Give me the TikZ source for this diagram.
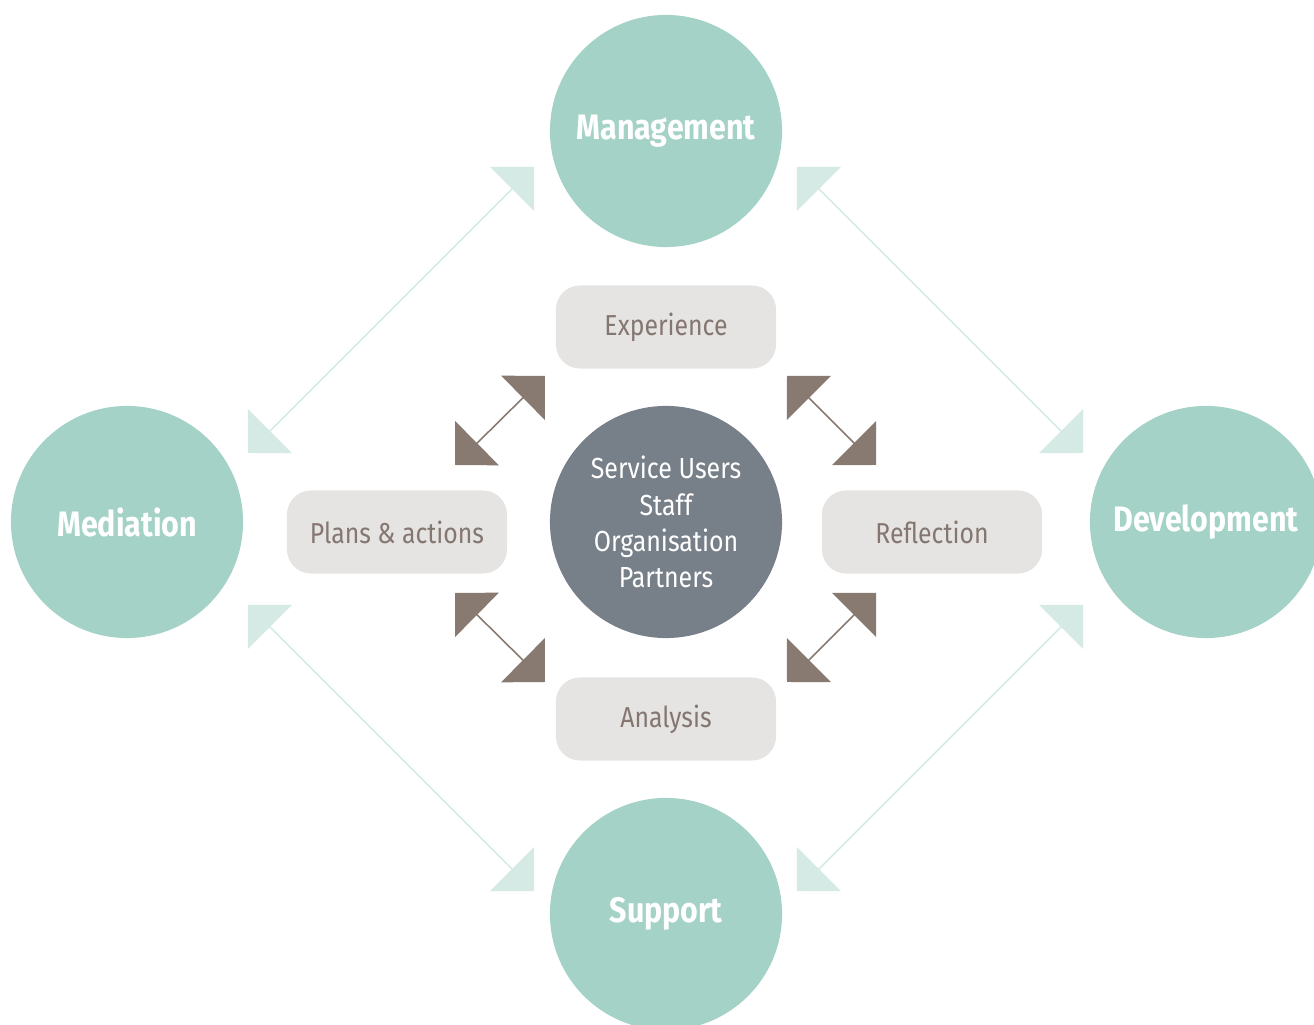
\documentclass[tikz,border=0pt]{standalone}
\usepackage{fontspec}
\setmainfont{Fira Sans}[FakeStretch=0.86]
\usetikzlibrary{arrows.meta}
\definecolor{hubgreen}{HTML}{A5D2C7}
\definecolor{palegreen}{HTML}{D5EAE5}
\definecolor{taupe}{HTML}{887A71}
\definecolor{boxgrey}{HTML}{E6E4E2}
\definecolor{boxtext}{HTML}{847670}
\definecolor{slate}{HTML}{777F89}
\tikzset{
  theme/.style={circle, fill=hubgreen, minimum size=2.32cm, inner sep=0pt,
    text=white, font=\bfseries\fontsize{10.05}{11}\selectfont},
  hub/.style={circle, fill=slate, minimum size=2.32cm, inner sep=0pt,
    text=white, align=center, font=\fontsize{8.25}{10.3}\selectfont},
  stage/.style={rectangle, rounded corners=0.24cm, fill=boxgrey,
    minimum width=2.2cm, minimum height=0.83cm, text=boxtext,
    font=\fontsize{8.2}{10}\selectfont},
  tip/.tip={Triangle[length=0.31cm, width=0.62cm]},
  outerlink/.style={palegreen, line width=0.45pt, tip-tip},
  innerlink/.style={taupe, line width=0.45pt, tip-tip}
}
\begin{document}
\begin{tikzpicture}[x=0.01cm, y=-0.01cm]
\useasboundingbox (0,0) rectangle (1314,1025);
\clip (0,0) rectangle (1314,1025);

% outer circles
\node[theme] (mgmt) at (666,131) {Management};
\node[theme] (med)  at (127,522) {Mediation};
\node[theme] (dev)  at (1206,522) {Development};
\node[theme] (supp) at (666,914) {Support};

% centre
\node[hub] (core) at (666,522) {Service Users\\Staff\\Organisation\\Partners};

% cycle stages
\node[stage] (exp)  at (666,327) {Experience};
\node[stage] (refl) at (932,532) {Reflection};
\node[stage] (ana)  at (666,719) {Analysis};
\node[stage] (plan) at (397,532) {Plans \& actions};

% outer arrows
\coordinate (mgmt-w) at (534,167);
\coordinate (mgmt-e) at (797,167);
\coordinate (med-n)  at (248,453);
\coordinate (med-s)  at (248,605);
\coordinate (dev-n)  at (1083,453);
\coordinate (dev-s)  at (1083,605);
\coordinate (supp-w) at (534,891);
\coordinate (supp-e) at (797,891);
\foreach \a/\b in {med-n/mgmt-w, mgmt-e/dev-n, dev-s/supp-e, supp-w/med-s}
  \draw[outerlink] (\a) -- (\b);

% inner arrows
\coordinate (plan-ne) at (455,465);
\coordinate (exp-sw)  at (545,376);
\coordinate (exp-se)  at (787,376);
\coordinate (refl-nw) at (876,465);
\coordinate (refl-sw) at (876,593);
\coordinate (ana-ne)  at (787,682);
\coordinate (ana-nw)  at (545,682);
\coordinate (plan-se) at (455,593);
\foreach \a/\b in {plan-ne/exp-sw, exp-se/refl-nw, refl-sw/ana-ne, ana-nw/plan-se}
  \draw[innerlink] (\a) -- (\b);
\end{tikzpicture}
\end{document}
